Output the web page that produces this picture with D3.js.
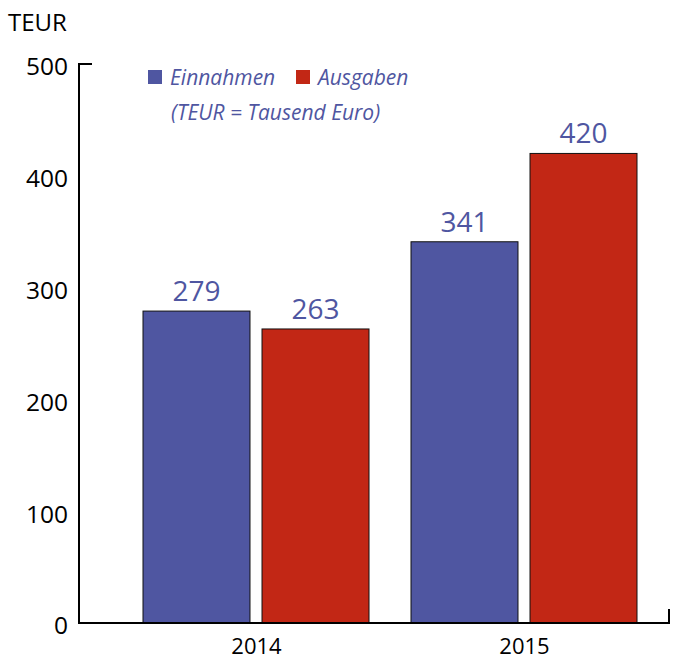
<!DOCTYPE html>
<html>
<head>
<meta charset="utf-8">
<script src="https://cdn.jsdelivr.net/npm/d3@7"></script>
<style>
  body { margin: 0; background: #fff; }
  text { font-family: "Open Sans", "Noto Sans", sans-serif; }
</style>
</head>
<body>
<div id="my_dataviz"></div>
<script>

var years = ["2014", "2015"];
var series = ["Einnahmen", "Ausgaben"];
var einnahmen = [279, 341];
var ausgaben = [263, 420];
var yTicks = [0, 100, 200, 300, 400, 500];
var colors = ["#4f56a1", "#c22715"];

var width = 674, height = 661;

var svg = d3.select("#my_dataviz")
  .append("svg")
    .attr("width", width)
    .attr("height", height);

var y = d3.scaleLinear().domain([0, 500]).range([623, 64]);
var x = d3.scalePoint().domain(years).range([256, 524]);
var xSub = d3.scaleBand().domain(series).range([-113, 113]).paddingInner(0.101);

var data = [];
years.forEach(function(yr, i) {
  data.push({ year: yr, s: series[0], v: einnahmen[i], c: colors[0] });
  data.push({ year: yr, s: series[1], v: ausgaben[i], c: colors[1] });
});

// bars
svg.selectAll(".bar")
  .data(data)
  .enter()
  .append("rect")
    .attr("class", "bar")
    .attr("x", function(d) { return x(d.year) + xSub(d.s); })
    .attr("y", function(d) { return y(d.v); })
    .attr("width", xSub.bandwidth())
    .attr("height", function(d) { return y(0) - y(d.v); })
    .attr("fill", function(d) { return d.c; })
    .attr("stroke", "#111")
    .attr("stroke-width", 1);

// value labels
svg.selectAll(".val")
  .data(data)
  .enter()
  .append("text")
    .attr("x", function(d) { return x(d.year) + xSub(d.s) + xSub.bandwidth() / 2; })
    .attr("y", function(d) { return y(d.v) - 10; })
    .attr("text-anchor", "middle")
    .attr("font-size", 28)
    .attr("fill", "#4f56a1")
    .text(function(d) { return d.v; });

// y axis
var yAxis = d3.axisLeft(y).tickValues(yTicks).tickSize(0).tickPadding(11);
var gy = svg.append("g")
  .attr("transform", "translate(79,3)")
  .call(yAxis);
gy.select(".domain").remove();
gy.selectAll("text").attr("font-size", 24.5).attr("fill", "#000")
  .attr("font-family", "'Open Sans', 'Noto Sans', sans-serif");

svg.append("line").attr("x1", 79).attr("x2", 79).attr("y1", y(500) - 1).attr("y2", y(0) + 1)
  .attr("stroke", "#000").attr("stroke-width", 2);
svg.append("line").attr("x1", 78).attr("x2", 92).attr("y1", y(500)).attr("y2", y(500))
  .attr("stroke", "#000").attr("stroke-width", 2);

// x axis
svg.append("line").attr("x1", 78).attr("x2", 670).attr("y1", y(0)).attr("y2", y(0))
  .attr("stroke", "#000").attr("stroke-width", 2);
svg.append("line").attr("x1", 669).attr("x2", 669).attr("y1", y(0)).attr("y2", y(0) - 14)
  .attr("stroke", "#000").attr("stroke-width", 2);

var xAxis = d3.axisBottom(x).tickSize(0).tickPadding(15);
var gx = svg.append("g")
  .attr("transform", "translate(0," + y(0) + ")")
  .call(xAxis);
gx.select(".domain").remove();
gx.selectAll("text").attr("font-size", 22).attr("fill", "#000")
  .attr("font-family", "'Open Sans', 'Noto Sans', sans-serif");

// unit label
svg.append("text").attr("x", 8).attr("y", 31)
  .attr("font-size", 24).attr("fill", "#000").text("TEUR");

// legend
var legX = [148, 296];
series.forEach(function(s, i) {
  svg.append("rect").attr("x", legX[i]).attr("y", 70).attr("width", 14).attr("height", 14)
    .attr("fill", colors[i]);
  svg.append("text").attr("x", legX[i] + 22).attr("y", 85)
    .attr("font-size", 21).attr("font-style", "italic").attr("fill", "#4f56a1").text(s);
});
svg.append("text").attr("x", 171).attr("y", 120)
  .attr("font-size", 21).attr("font-style", "italic").attr("fill", "#4f56a1")
  .text("(TEUR = Tausend Euro)");

</script>
</body>
</html>
